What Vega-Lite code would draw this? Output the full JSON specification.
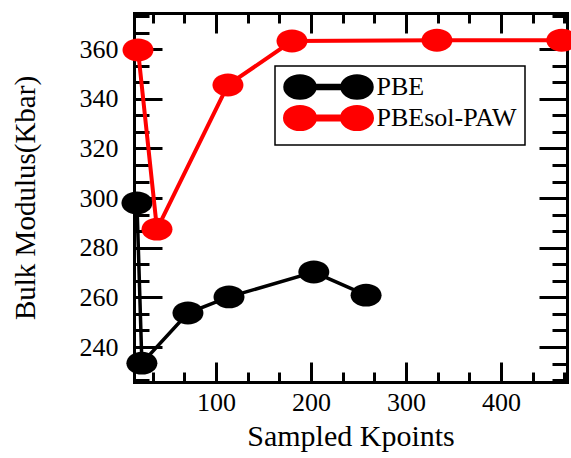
{
  "$schema": "https://vega.github.io/schema/vega-lite/v6.json",
  "width": 433,
  "height": 369,
  "autosize": "none",
  "padding": {"left": 134, "top": 13, "right": 4, "bottom": 76},
  "background": "white",
  "config": {
    "view": {"stroke": null},
    "font": "Liberation Serif",
    "axis": {
      "grid": false,
      "domain": false,
      "zindex": 1,
      "tickColor": "black",
      "tickWidth": 3,
      "labelFont": "Liberation Serif",
      "labelColor": "black",
      "titleFont": "Liberation Serif",
      "titleColor": "black",
      "titleFontWeight": "normal"
    },
    "legend": {"labelFont": "Liberation Serif"}
  },
  "data": {
    "values": [
      {"method": "PBE", "kpoints": 16.8, "modulus": 298.0},
      {"method": "PBE", "kpoints": 22, "modulus": 233.5},
      {"method": "PBE", "kpoints": 70.5, "modulus": 253.7},
      {"method": "PBE", "kpoints": 113.7, "modulus": 260.2},
      {"method": "PBE", "kpoints": 203, "modulus": 270.2},
      {"method": "PBE", "kpoints": 258, "modulus": 260.9},
      {"method": "PBEsol-PAW", "kpoints": 17.9, "modulus": 359.7},
      {"method": "PBEsol-PAW", "kpoints": 37.9, "modulus": 287.5},
      {"method": "PBEsol-PAW", "kpoints": 112.6, "modulus": 345.6},
      {"method": "PBEsol-PAW", "kpoints": 180, "modulus": 363.3},
      {"method": "PBEsol-PAW", "kpoints": 332.6, "modulus": 363.6},
      {"method": "PBEsol-PAW", "kpoints": 464, "modulus": 363.6}
    ]
  },
  "resolve": {"axis": {"x": "independent", "y": "independent"}},
  "layer": [
    {
      "layer": [
        {
          "mark": {
            "type": "point",
            "filled": true,
            "opacity": 1,
            "size": 961,
            "shape": "M-1,0 A1,0.74 0 1,0 1,0 A1,0.74 0 1,0 -1,0 Z"
          },
          "encoding": {
            "color": {
              "field": "method",
              "type": "nominal",
              "scale": {"domain": ["PBE", "PBEsol-PAW"], "range": ["#000000", "#ff0000"]},
              "legend": {
                "title": null,
                "orient": "none",
                "legendX": 141,
                "legendY": 53,
                "direction": "vertical",
                "strokeColor": "black",
                "fillColor": "white",
                "padding": 8,
                "symbolType": "M-3.955,0 A1.364,1 0 1,0 -1.227,0 A1.364,1 0 1,0 -3.955,0 Z M1.227,0 A1.364,1 0 1,0 3.955,0 A1.364,1 0 1,0 1.227,0 Z M-2.59,-0.14 L2.59,-0.14 L2.59,0.14 L-2.59,0.14 Z",
                "symbolSize": 484,
                "symbolOffset": 32.5,
                "symbolStrokeWidth": 0,
                "symbolOpacity": 1,
                "labelFont": "Liberation Serif",
                "labelFontSize": 26,
                "labelColor": "black",
                "labelOffset": 35,
                "rowPadding": -11,
                "encode": {"legend": {"update": {"strokeWidth": {"value": 1.5}}}}
              }
            }
          }
        },
        {
          "mark": {"type": "line"},
          "encoding": {
            "color": {
              "field": "method",
              "type": "nominal",
              "scale": {"domain": ["PBE", "PBEsol-PAW"], "range": ["#000000", "#ff0000"]},
              "legend": null
            },
            "strokeWidth": {
              "field": "method", "type": "nominal", "legend": null,
              "scale": {"domain": ["PBE", "PBEsol-PAW"], "range": [3.5, 4]}
            }
          }
        }
      ],
      "encoding": {
        "x": {
          "field": "kpoints",
          "type": "quantitative",
          "scale": {"domain": [13.7, 469.5], "nice": false, "zero": false},
          "axis": {
            "orient": "bottom",
            "values": [100, 200, 300, 400],
            "tickSize": -20,
            "labelFont": "Liberation Serif",
            "labelFontSize": 26,
            "labelPadding": 27,
            "title": "Sampled Kpoints",
            "titleFont": "Liberation Serif",
            "titleFontSize": 30,
            "titlePadding": 6
          }
        },
        "y": {
          "field": "modulus",
          "type": "quantitative",
          "scale": {"domain": [225.9, 374.6], "nice": false, "zero": false},
          "axis": {
            "orient": "left",
            "values": [240, 260, 280, 300, 320, 340, 360],
            "tickSize": -28,
            "labelFont": "Liberation Serif",
            "labelFontSize": 26,
            "labelPadding": 44,
            "title": "Bulk Modulus(Kbar)",
            "titleFont": "Liberation Serif",
            "titleFontSize": 29,
            "titlePadding": 39
          }
        }
      }
    },
    {
      "mark": {"type": "point", "opacity": 0},
      "encoding": {
        "x": {
          "field": "kpoints", "type": "quantitative",
          "axis": {
            "orient": "bottom", "labels": false, "title": null, "tickSize": -10,
            "values": [33.333, 66.667, 133.333, 166.667, 233.333, 266.667, 333.333, 366.667, 433.333, 466.667]
          }
        },
        "y": {
          "field": "modulus", "type": "quantitative",
          "axis": {
            "orient": "left", "labels": false, "title": null, "tickSize": -15,
            "values": [226.667, 233.333, 246.667, 253.333, 266.667, 273.333, 286.667, 293.333, 306.667, 313.333, 326.667, 333.333, 346.667, 353.333, 366.667, 373.333]
          }
        }
      }
    },
    {
      "mark": {"type": "point", "opacity": 0},
      "encoding": {
        "x": {
          "field": "kpoints", "type": "quantitative",
          "axis": {
            "orient": "top", "labels": false, "title": null, "tickSize": -20,
            "values": [100, 200, 300, 400]
          }
        },
        "y": {
          "field": "modulus", "type": "quantitative",
          "axis": {
            "orient": "right", "labels": false, "title": null, "tickSize": -28,
            "values": [240, 260, 280, 300, 320, 340, 360]
          }
        }
      }
    },
    {
      "mark": {"type": "point", "opacity": 0},
      "encoding": {
        "x": {
          "field": "kpoints", "type": "quantitative",
          "axis": {
            "orient": "top", "labels": false, "title": null, "tickSize": -10,
            "values": [33.333, 66.667, 133.333, 166.667, 233.333, 266.667, 333.333, 366.667, 433.333, 466.667]
          }
        },
        "y": {
          "field": "modulus", "type": "quantitative",
          "axis": {
            "orient": "right", "labels": false, "title": null, "tickSize": -15,
            "values": [226.667, 233.333, 246.667, 253.333, 266.667, 273.333, 286.667, 293.333, 306.667, 313.333, 326.667, 333.333, 346.667, 353.333, 366.667, 373.333]
          }
        }
      }
    },
    {
      "mark": {"type": "point", "opacity": 0},
      "encoding": {
        "x": {
          "field": "kpoints", "type": "quantitative",
          "axis": {
            "orient": "bottom", "labels": false, "ticks": false, "title": null,
            "domain": true, "domainColor": "black", "domainWidth": 3, "domainCap": "square"
          }
        },
        "y": {
          "field": "modulus", "type": "quantitative",
          "axis": {
            "orient": "left", "labels": false, "ticks": false, "title": null,
            "domain": true, "domainColor": "black", "domainWidth": 3, "domainCap": "square"
          }
        }
      }
    },
    {
      "mark": {"type": "point", "opacity": 0},
      "encoding": {
        "x": {
          "field": "kpoints", "type": "quantitative",
          "axis": {
            "orient": "top", "labels": false, "ticks": false, "title": null,
            "domain": true, "domainColor": "black", "domainWidth": 3, "domainCap": "square"
          }
        },
        "y": {
          "field": "modulus", "type": "quantitative",
          "axis": {
            "orient": "right", "labels": false, "ticks": false, "title": null,
            "domain": true, "domainColor": "black", "domainWidth": 3, "domainCap": "square"
          }
        }
      }
    }
  ]
}
